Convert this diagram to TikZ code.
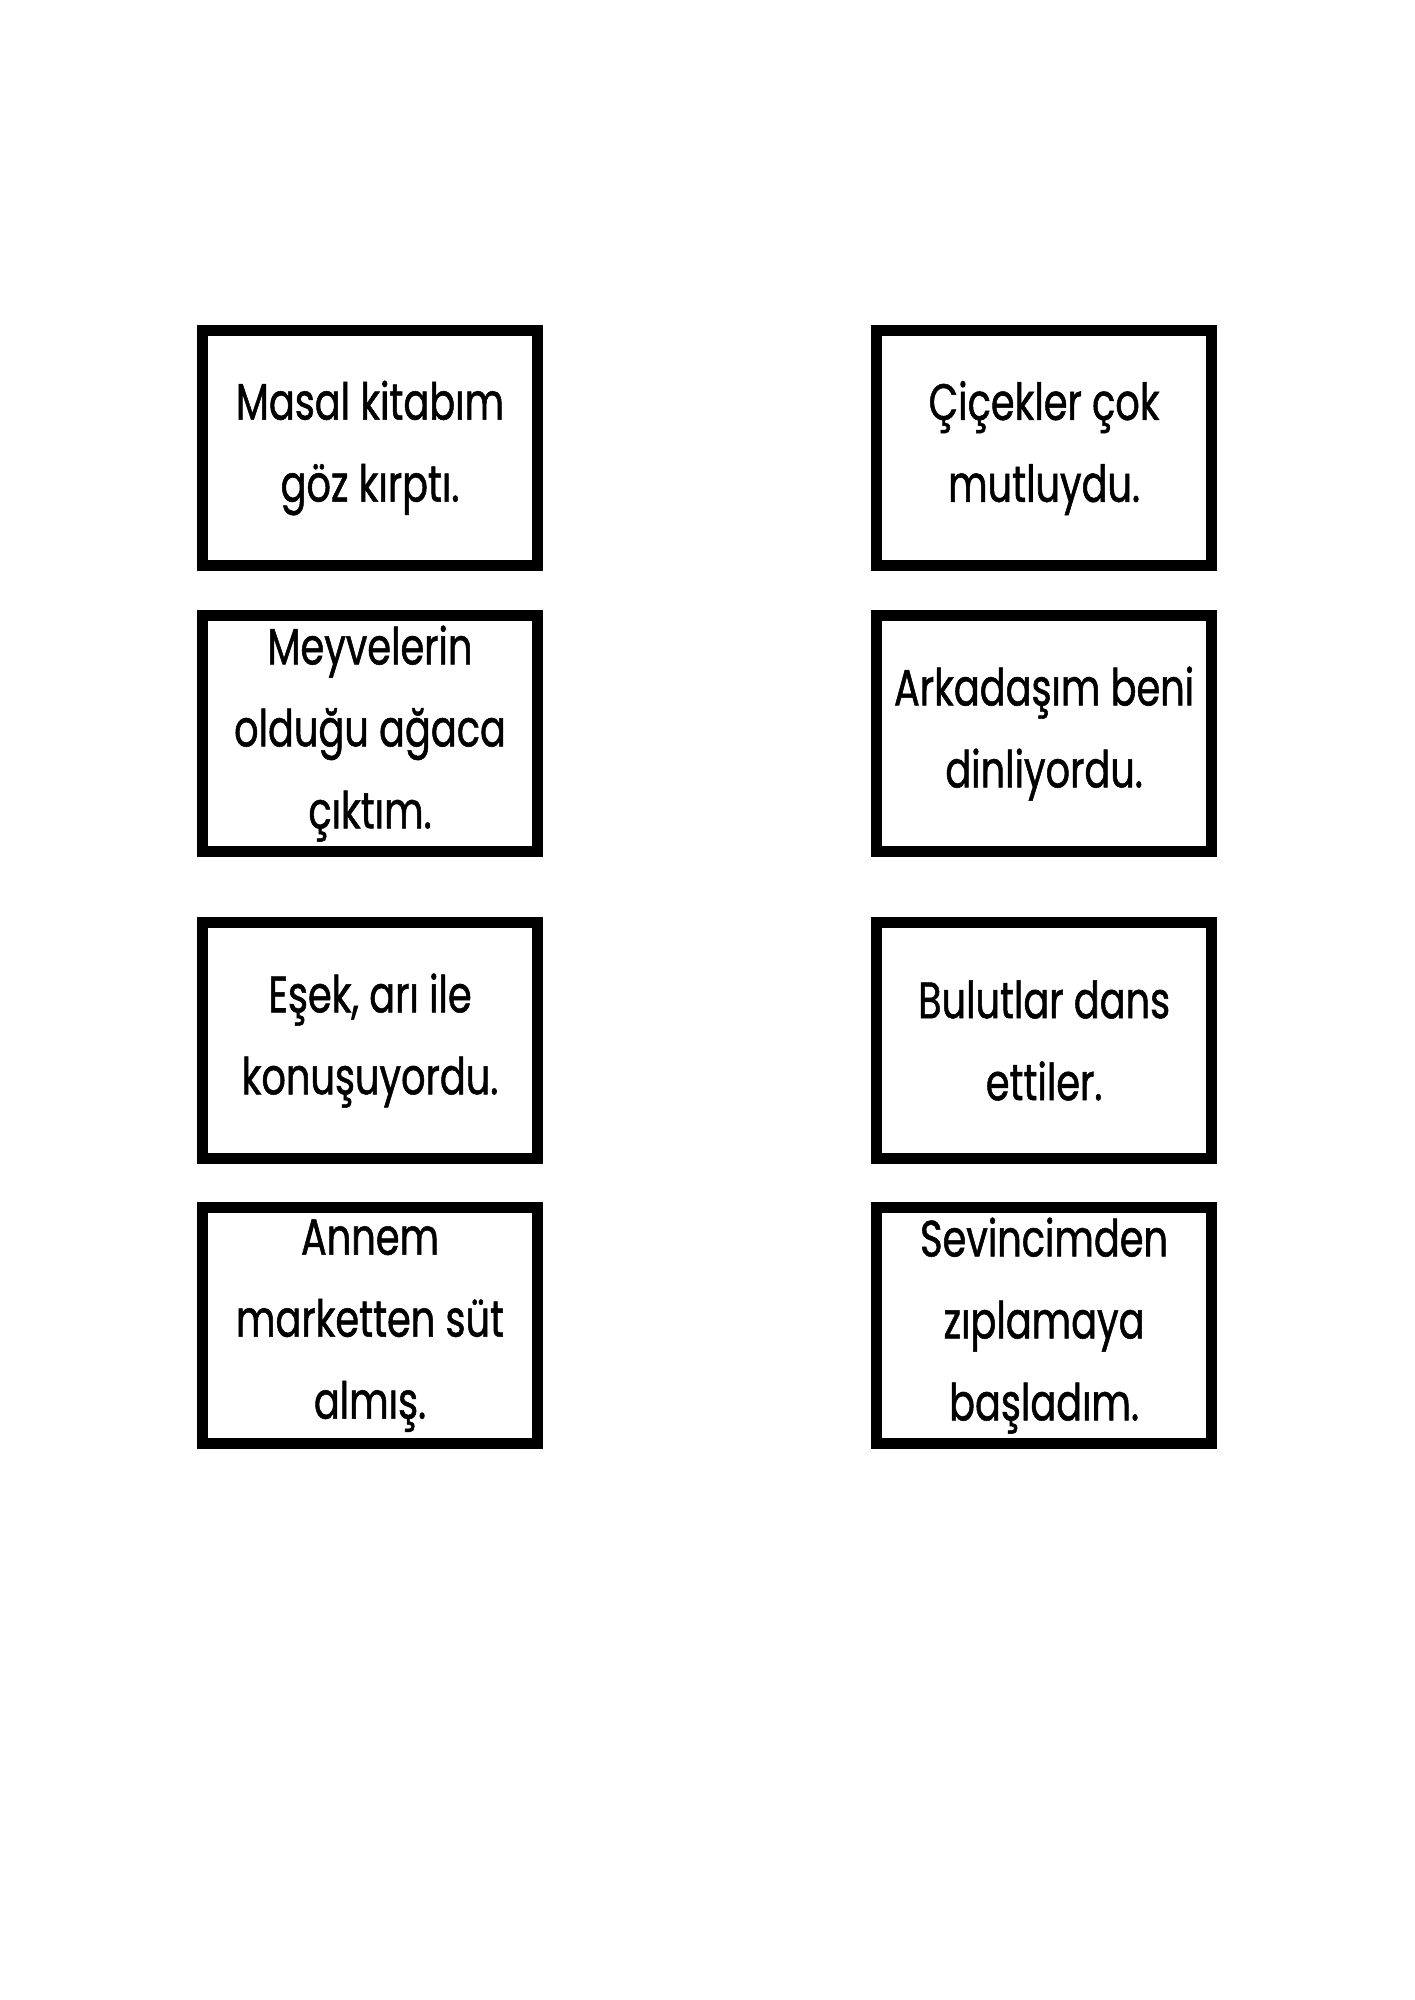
\documentclass[tikz,border=0pt]{standalone}
\usepackage{fontspec}
\usepackage{tikz}
\usetikzlibrary{positioning}
\newfontfamily\cardfont{Poppins}[FakeStretch=0.75, FakeBold=1]

\begin{document}
\begin{tikzpicture}[
    card/.style={draw, line width=4.7pt, minimum width=140.9pt, minimum height=99.2pt,
        inner sep=0pt, align=center, font=\cardfont\fontsize{21.5pt}{34.5pt}\selectfont,
        execute at begin node={\rule{0pt}{24pt}}}
]
    % Page
    \useasboundingbox (0,0) rectangle (595.28pt,-841.89pt);
    % Left column
    \node [card] (masal) at (155.75pt,-188.6pt) {Masal kitabım\\göz kırptı.};
    \node [card] (meyve) at (155.75pt,-308.8pt) {Meyvelerin\\olduğu ağaca\\çıktım.};
    \node [card] (esek) at (155.75pt,-438.0pt) {Eşek, arı ile\\konuşuyordu.};
    \node [card] (annem) at (155.75pt,-558.0pt) {Annem\\marketten süt\\almış.};
    % Right column
    \node [card] (cicek) at (439.5pt,-188.6pt) {Çiçekler çok\\mutluydu.};
    \node [card] (arkadas) at (439.5pt,-308.8pt) {Arkadaşım beni\\dinliyordu.};
    \node [card] (bulut) at (439.5pt,-438.0pt) {Bulutlar dans\\ettiler.};
    \node [card] (sevinc) at (439.5pt,-558.0pt) {Sevincimden\\zıplamaya\\başladım.};
\end{tikzpicture}
\end{document}
